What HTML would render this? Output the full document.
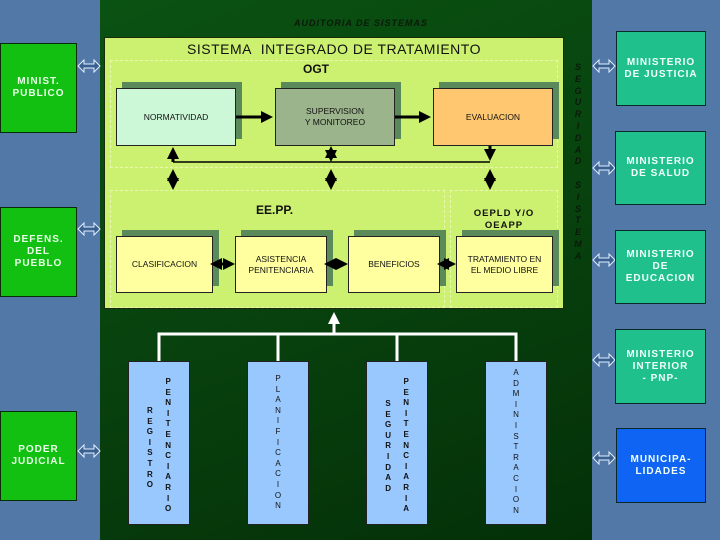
<!DOCTYPE html>
<html><head><meta charset="utf-8"><style>
*{margin:0;padding:0;box-sizing:border-box}
body{width:720px;height:540px;position:relative;overflow:hidden;background:#5278a8;font-family:"Liberation Sans",sans-serif}
.a{position:absolute}
.panel{left:100px;top:0;width:492px;height:540px;background:linear-gradient(160deg,#0a5212 0%,#08420e 50%,#043008 100%)}
.gbox{background:#12c012;border:1px solid #0a2a0a;color:#e8ffe8;font-weight:bold;font-size:10px;line-height:12px;text-align:center;display:flex;align-items:center;justify-content:center;letter-spacing:1px}
.tbox{background:#20c08c;border:1px solid #0a2a2a;color:#f0fff8;font-weight:bold;font-size:10px;line-height:12px;text-align:center;display:flex;align-items:center;justify-content:center;letter-spacing:1px}
.dash{border:1px dashed #e8f8b0}
.sh{background:#5a8a5a}
.bx{border:1px solid #222;font-size:8.5px;text-align:center;display:flex;align-items:center;justify-content:center;line-height:11px;color:#111}
.vb{background:#99c8ff;border:1px solid #222;display:flex;justify-content:center;gap:12px;font-size:8px;font-weight:bold;color:#111}
.col{display:flex;flex-direction:column;align-items:center;line-height:10.6px}
.col span{display:block;height:10.6px}
</style></head><body>
<div class="a panel"></div>
<div class="a" style="left:294px;top:18px;font-size:9px;font-style:italic;font-weight:bold;color:#0a1a0a;letter-spacing:1px">AUDITORIA DE SISTEMAS</div>
<div class="a" style="left:104px;top:37px;width:460px;height:272px;background:#ccf070;border:1px solid #1a2a0a"></div>
<div class="a" style="left:104px;top:41px;width:460px;text-align:center;font-size:14px;color:#111;letter-spacing:0.5px">SISTEMA&nbsp; INTEGRADO DE TRATAMIENTO</div>
<div class="a dash" style="left:110px;top:60px;width:448px;height:108px"></div>
<div class="a" style="left:303px;top:62px;font-size:12px;font-weight:bold;color:#111">OGT</div>
<div class="a sh" style="left:122px;top:82px;width:120px;height:57px"></div>
<div class="a bx" style="left:116px;top:88px;width:120px;height:58px;background:#ccf8d8">NORMATIVIDAD</div>
<div class="a sh" style="left:281px;top:82px;width:120px;height:57px"></div>
<div class="a bx" style="left:275px;top:88px;width:120px;height:58px;background:#9cb48c">SUPERVISION<br>Y MONITOREO</div>
<div class="a sh" style="left:439px;top:82px;width:120px;height:57px"></div>
<div class="a bx" style="left:433px;top:88px;width:120px;height:58px;background:#ffc870">EVALUACION</div>
<div class="a dash" style="left:110px;top:190px;width:335px;height:118px"></div>
<div class="a dash" style="left:450px;top:190px;width:108px;height:118px"></div>
<div class="a" style="left:256px;top:203px;font-size:12px;font-weight:bold;color:#111">EE.PP.</div>
<div class="a" style="left:450px;top:208px;width:108px;text-align:center;font-size:9.5px;font-weight:bold;color:#111;line-height:12px;letter-spacing:1px">OEPLD Y/O<br>OEAPP</div>
<div class="a sh" style="left:122px;top:230px;width:97px;height:56px"></div>
<div class="a bx" style="left:116px;top:236px;width:97px;height:57px;background:#ffffa0">CLASIFICACION</div>
<div class="a sh" style="left:241px;top:230px;width:92px;height:56px"></div>
<div class="a bx" style="left:235px;top:236px;width:92px;height:57px;background:#ffffa0">ASISTENCIA<br>PENITENCIARIA</div>
<div class="a sh" style="left:354px;top:230px;width:92px;height:56px"></div>
<div class="a bx" style="left:348px;top:236px;width:92px;height:57px;background:#ffffa0">BENEFICIOS</div>
<div class="a sh" style="left:462px;top:230px;width:97px;height:56px"></div>
<div class="a bx" style="left:456px;top:236px;width:97px;height:57px;background:#ffffa0">TRATAMIENTO EN<br>EL MEDIO LIBRE</div>
<svg class="a" style="left:0;top:0" width="720" height="540">
<defs><marker id="m" markerWidth="4" markerHeight="4" refX="3" refY="2" orient="auto-start-reverse"><path d="M0,0L4,2L0,4z" fill="#000"/></marker>
<marker id="w" markerWidth="4" markerHeight="4" refX="3" refY="2" orient="auto"><path d="M0,0L4,2L0,4z" fill="#fff"/></marker></defs>
<g stroke="#000" stroke-width="3">
<line x1="236" y1="117" x2="270" y2="117" marker-end="url(#m)"/>
<line x1="395" y1="117" x2="428" y2="117" marker-end="url(#m)"/>
<line x1="213" y1="264" x2="232" y2="264" marker-start="url(#m)" marker-end="url(#m)"/>
<line x1="327" y1="264" x2="345" y2="264" marker-start="url(#m)" marker-end="url(#m)"/>
<line x1="440" y1="264" x2="453" y2="264" marker-start="url(#m)" marker-end="url(#m)"/>
<line x1="173" y1="172" x2="173" y2="187" marker-start="url(#m)" marker-end="url(#m)"/>
<line x1="331" y1="172" x2="331" y2="187" marker-start="url(#m)" marker-end="url(#m)"/>
<line x1="490" y1="172" x2="490" y2="187" marker-start="url(#m)" marker-end="url(#m)"/>
<line x1="331" y1="149" x2="331" y2="159" marker-start="url(#m)" marker-end="url(#m)"/>
<line x1="173" y1="162" x2="173" y2="150" marker-end="url(#m)"/>
<line x1="490" y1="146" x2="490" y2="158" marker-end="url(#m)"/>
</g>
<polyline points="173,162 490,162" stroke="#000" stroke-width="1.5" fill="none"/>
<g stroke="#fff" stroke-width="3" fill="none">
<line x1="334" y1="334" x2="334" y2="315" marker-end="url(#w)"/>
<polyline points="159,361 159,334 516,334 516,361"/>
<line x1="278" y1="334" x2="278" y2="361"/>
<line x1="397" y1="334" x2="397" y2="361"/>
</g>
<g fill="#3a6090" stroke="#e0f0ff" stroke-width="1">
<path id="da" d="M78,66 l6,-6 v4 h10 v-4 l6,6 l-6,6 v-4 h-10 v4z"/>
<use href="#da" y="163"/><use href="#da" y="385"/>
<use href="#da" x="515" y="0"/><use href="#da" x="515" y="102"/><use href="#da" x="515" y="194"/><use href="#da" x="515" y="294"/><use href="#da" x="515" y="392"/>
</g>
</svg>
<div class="a" style="left:572px;top:62px;width:12px;display:flex;flex-direction:column;align-items:center;font-size:9px;font-style:italic;font-weight:bold;color:#0a1a0a;line-height:11.8px"><span>S</span><span>E</span><span>G</span><span>U</span><span>R</span><span>I</span><span>D</span><span>A</span><span>D</span><span>&nbsp;</span><span>S</span><span>I</span><span>S</span><span>T</span><span>E</span><span>M</span><span>A</span></div>
<div class="a vb" style="left:128px;top:361px;width:62px;height:164px"><div class="col" style="padding-top:44px"><span>R</span><span>E</span><span>G</span><span>I</span><span>S</span><span>T</span><span>R</span><span>O</span></div><div class="col" style="padding-top:15px"><span>P</span><span>E</span><span>N</span><span>I</span><span>T</span><span>E</span><span>N</span><span>C</span><span>I</span><span>A</span><span>R</span><span>I</span><span>O</span></div></div>
<div class="a vb" style="left:247px;top:361px;width:62px;height:164px"><div class="col" style="padding-top:12px;font-weight:normal"><span>P</span><span>L</span><span>A</span><span>N</span><span>I</span><span>F</span><span>I</span><span>C</span><span>A</span><span>C</span><span>I</span><span>O</span><span>N</span></div></div>
<div class="a vb" style="left:366px;top:361px;width:62px;height:164px"><div class="col" style="padding-top:37px"><span>S</span><span>E</span><span>G</span><span>U</span><span>R</span><span>I</span><span>D</span><span>A</span><span>D</span></div><div class="col" style="padding-top:15px"><span>P</span><span>E</span><span>N</span><span>I</span><span>T</span><span>E</span><span>N</span><span>C</span><span>I</span><span>A</span><span>R</span><span>I</span><span>A</span></div></div>
<div class="a vb" style="left:485px;top:361px;width:62px;height:164px"><div class="col" style="padding-top:6px;font-weight:normal"><span>A</span><span>D</span><span>M</span><span>I</span><span>N</span><span>I</span><span>S</span><span>T</span><span>R</span><span>A</span><span>C</span><span>I</span><span>O</span><span>N</span></div></div>
<div class="a gbox" style="left:0;top:43px;width:77px;height:90px">MINIST.<br>PUBLICO</div>
<div class="a gbox" style="left:0;top:207px;width:77px;height:90px">DEFENS.<br>DEL<br>PUEBLO</div>
<div class="a gbox" style="left:0;top:411px;width:77px;height:90px">PODER<br>JUDICIAL</div>
<div class="a tbox" style="left:616px;top:31px;width:90px;height:75px">MINISTERIO<br>DE JUSTICIA</div>
<div class="a tbox" style="left:615px;top:131px;width:91px;height:74px">MINISTERIO<br>DE SALUD</div>
<div class="a tbox" style="left:615px;top:230px;width:91px;height:74px">MINISTERIO<br>DE<br>EDUCACION</div>
<div class="a tbox" style="left:615px;top:329px;width:91px;height:75px">MINISTERIO<br>INTERIOR<br>- PNP-</div>
<div class="a tbox" style="left:616px;top:428px;width:90px;height:75px;background:#1064f4">MUNICIPA-<br>LIDADES</div>
</body></html>
